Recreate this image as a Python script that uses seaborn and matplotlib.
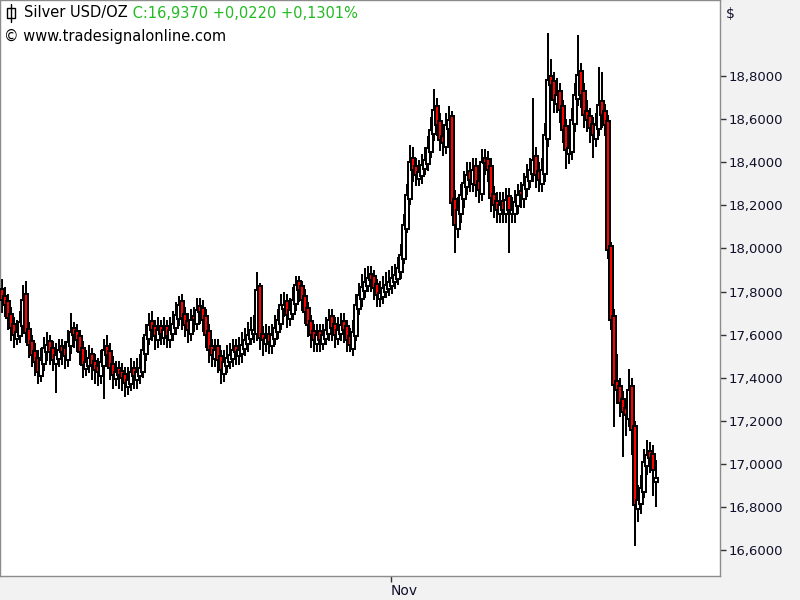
import numpy as np
import pandas as pd
import matplotlib
matplotlib.use("Agg")
import matplotlib.pyplot as plt
import seaborn as sns
from matplotlib.patches import Rectangle
from matplotlib.lines import Line2D

# ---------------- data (Silver USD/OZ, intraday candles) ----------------
closes = [
    17.761, 17.738, 17.678, 17.631, 17.599, 17.613, 17.659, 17.761, 17.608, 17.552,
    17.506, 17.473, 17.427, 17.483, 17.538, 17.552, 17.520, 17.483, 17.506, 17.529,
    17.520, 17.501, 17.566, 17.613, 17.599, 17.575, 17.520, 17.459, 17.473, 17.492,
    17.459, 17.436, 17.427, 17.473, 17.529, 17.506, 17.446, 17.413, 17.427, 17.413,
    17.399, 17.376, 17.390, 17.427, 17.408, 17.427, 17.446, 17.529, 17.599, 17.645,
    17.622, 17.594, 17.622, 17.603, 17.622, 17.594, 17.622, 17.650, 17.691, 17.738,
    17.678, 17.645, 17.622, 17.668, 17.668, 17.715, 17.705, 17.668, 17.599, 17.529,
    17.506, 17.529, 17.483, 17.436, 17.473, 17.492, 17.506, 17.529, 17.520, 17.529,
    17.552, 17.575, 17.599, 17.622, 17.622, 17.807, 17.585, 17.575, 17.585, 17.566,
    17.599, 17.631, 17.668, 17.738, 17.738, 17.691, 17.715, 17.761, 17.831, 17.807,
    17.761, 17.705, 17.645, 17.599, 17.575, 17.599, 17.575, 17.599, 17.622, 17.668,
    17.631, 17.599, 17.622, 17.645, 17.622, 17.575, 17.552, 17.613, 17.738, 17.784,
    17.821, 17.845, 17.863, 17.854, 17.817, 17.784, 17.794, 17.817, 17.831, 17.845,
    17.863, 17.877, 17.910, 17.970, 18.109, 18.248, 18.401, 18.364, 18.341, 18.355,
    18.387, 18.411, 18.466, 18.550, 18.643, 18.573, 18.503, 18.490, 18.573, 18.596,
    18.211, 18.109, 18.179, 18.248, 18.304, 18.341, 18.318, 18.364, 18.295, 18.271,
    18.401, 18.397, 18.364, 18.234, 18.202, 18.179, 18.202, 18.179, 18.225, 18.179,
    18.179, 18.216, 18.248, 18.248, 18.295, 18.332, 18.364, 18.411, 18.341, 18.318,
    18.364, 18.527, 18.782, 18.759, 18.689, 18.712, 18.643, 18.550, 18.457, 18.466,
    18.596, 18.712, 18.805, 18.712, 18.619, 18.596, 18.559, 18.527, 18.573, 18.666,
    18.619, 18.573, 17.993, 17.668, 17.367, 17.343, 17.283, 17.241, 17.227, 17.343,
    17.158, 16.810, 16.833, 16.889, 17.009, 17.042, 17.028, 16.972, 16.937,
]

opens = [
    17.810, 17.781, 17.758, 17.698, 17.651, 17.579, 17.593, 17.639, 17.790, 17.628,
    17.572, 17.526, 17.493, 17.407, 17.463, 17.518, 17.572, 17.540, 17.463, 17.486,
    17.549, 17.540, 17.481, 17.546, 17.633, 17.619, 17.595, 17.540, 17.439, 17.453,
    17.512, 17.479, 17.456, 17.407, 17.453, 17.549, 17.526, 17.466, 17.393, 17.447,
    17.433, 17.419, 17.356, 17.370, 17.447, 17.388, 17.407, 17.426, 17.509, 17.579,
    17.665, 17.642, 17.574, 17.642, 17.583, 17.642, 17.574, 17.602, 17.630, 17.671,
    17.758, 17.698, 17.665, 17.602, 17.688, 17.648, 17.735, 17.725, 17.688, 17.619,
    17.549, 17.486, 17.549, 17.503, 17.416, 17.453, 17.472, 17.486, 17.549, 17.500,
    17.509, 17.532, 17.555, 17.579, 17.602, 17.602, 17.827, 17.605, 17.555, 17.605,
    17.546, 17.579, 17.611, 17.648, 17.718, 17.758, 17.671, 17.695, 17.741, 17.851,
    17.827, 17.781, 17.725, 17.665, 17.619, 17.555, 17.619, 17.555, 17.579, 17.602,
    17.688, 17.651, 17.579, 17.602, 17.665, 17.642, 17.595, 17.532, 17.593, 17.718,
    17.764, 17.801, 17.825, 17.883, 17.874, 17.837, 17.764, 17.774, 17.797, 17.811,
    17.825, 17.843, 17.857, 17.890, 17.950, 18.089, 18.228, 18.421, 18.384, 18.321,
    18.335, 18.367, 18.391, 18.446, 18.530, 18.663, 18.593, 18.523, 18.470, 18.553,
    18.616, 18.231, 18.089, 18.159, 18.228, 18.284, 18.361, 18.298, 18.384, 18.315,
    18.251, 18.421, 18.417, 18.384, 18.254, 18.222, 18.159, 18.222, 18.159, 18.245,
    18.159, 18.159, 18.196, 18.268, 18.228, 18.275, 18.312, 18.344, 18.431, 18.361,
    18.298, 18.344, 18.507, 18.802, 18.779, 18.669, 18.732, 18.663, 18.570, 18.437,
    18.446, 18.576, 18.692, 18.825, 18.732, 18.639, 18.616, 18.579, 18.507, 18.553,
    18.686, 18.639, 18.593, 18.013, 17.688, 17.387, 17.363, 17.303, 17.261, 17.207,
    17.363, 17.178, 16.790, 16.813, 16.869, 16.989, 17.062, 17.048, 16.915,
]

highs = [
    17.86, 17.82, 17.79, 17.73, 17.68, 17.67, 17.71, 17.83, 17.85, 17.66,
    17.60, 17.56, 17.53, 17.54, 17.59, 17.61, 17.60, 17.57, 17.56, 17.58,
    17.58, 17.57, 17.62, 17.70, 17.66, 17.65, 17.62, 17.57, 17.53, 17.55,
    17.54, 17.51, 17.49, 17.53, 17.58, 17.60, 17.56, 17.50, 17.48, 17.48,
    17.47, 17.45, 17.45, 17.49, 17.48, 17.49, 17.51, 17.59, 17.65, 17.70,
    17.71, 17.67, 17.68, 17.67, 17.68, 17.67, 17.68, 17.71, 17.75, 17.78,
    17.79, 17.73, 17.70, 17.72, 17.73, 17.77, 17.77, 17.76, 17.72, 17.65,
    17.58, 17.58, 17.58, 17.53, 17.53, 17.55, 17.56, 17.58, 17.58, 17.59,
    17.61, 17.63, 17.66, 17.68, 17.69, 17.89, 17.84, 17.64, 17.65, 17.64,
    17.65, 17.69, 17.72, 17.79, 17.80, 17.79, 17.77, 17.82, 17.87, 17.87,
    17.85, 17.81, 17.75, 17.69, 17.65, 17.65, 17.65, 17.65, 17.68, 17.72,
    17.72, 17.68, 17.68, 17.70, 17.70, 17.67, 17.63, 17.67, 17.79, 17.84,
    17.88, 17.91, 17.92, 17.92, 17.90, 17.86, 17.85, 17.87, 17.89, 17.90,
    17.92, 17.93, 17.96, 18.02, 18.16, 18.30, 18.48, 18.47, 18.42, 18.41,
    18.44, 18.47, 18.52, 18.61, 18.74, 18.70, 18.63, 18.56, 18.63, 18.66,
    18.64, 18.27, 18.24, 18.30, 18.36, 18.40, 18.40, 18.42, 18.42, 18.35,
    18.46, 18.46, 18.45, 18.42, 18.29, 18.26, 18.26, 18.26, 18.28, 18.28,
    18.24, 18.27, 18.30, 18.31, 18.35, 18.39, 18.42, 18.70, 18.47, 18.40,
    18.42, 18.58, 19.00, 18.88, 18.82, 18.79, 18.77, 18.69, 18.60, 18.53,
    18.65, 18.77, 18.99, 18.86, 18.77, 18.69, 18.65, 18.61, 18.63, 18.84,
    18.82, 18.67, 18.62, 18.03, 17.72, 17.51, 17.40, 17.34, 17.30, 17.44,
    17.40, 17.20, 16.90, 16.95, 17.07, 17.11, 17.10, 17.09, 17.02,
]

lows = [
    17.70, 17.68, 17.62, 17.57, 17.54, 17.55, 17.56, 17.61, 17.56, 17.49,
    17.45, 17.41, 17.37, 17.38, 17.43, 17.48, 17.46, 17.43, 17.33, 17.45,
    17.46, 17.44, 17.45, 17.51, 17.54, 17.52, 17.46, 17.40, 17.41, 17.42,
    17.39, 17.37, 17.36, 17.37, 17.30, 17.45, 17.39, 17.35, 17.36, 17.35,
    17.34, 17.31, 17.32, 17.34, 17.35, 17.35, 17.37, 17.40, 17.48, 17.55,
    17.57, 17.53, 17.54, 17.55, 17.55, 17.54, 17.54, 17.57, 17.60, 17.64,
    17.62, 17.59, 17.56, 17.57, 17.61, 17.62, 17.65, 17.61, 17.54, 17.47,
    17.45, 17.45, 17.42, 17.37, 17.38, 17.42, 17.44, 17.45, 17.46, 17.46,
    17.47, 17.50, 17.52, 17.55, 17.56, 17.57, 17.53, 17.50, 17.52, 17.51,
    17.51, 17.55, 17.58, 17.62, 17.68, 17.63, 17.64, 17.67, 17.71, 17.75,
    17.71, 17.65, 17.59, 17.54, 17.52, 17.52, 17.52, 17.53, 17.55, 17.57,
    17.57, 17.54, 17.55, 17.57, 17.56, 17.52, 17.52, 17.50, 17.57, 17.69,
    17.73, 17.77, 17.80, 17.80, 17.76, 17.73, 17.73, 17.74, 17.77, 17.78,
    17.79, 17.81, 17.83, 17.86, 17.93, 18.07, 18.20, 18.31, 18.29, 18.29,
    18.30, 18.34, 18.36, 18.42, 18.50, 18.52, 18.45, 18.43, 18.44, 18.52,
    18.15, 17.98, 18.05, 18.12, 18.19, 18.25, 18.26, 18.26, 18.24, 18.21,
    18.22, 18.34, 18.31, 18.17, 18.14, 18.12, 18.12, 18.12, 18.12, 17.98,
    18.12, 18.12, 18.16, 18.19, 18.19, 18.24, 18.28, 18.31, 18.28, 18.26,
    18.26, 18.31, 18.47, 18.69, 18.63, 18.63, 18.58, 18.49, 18.37, 18.39,
    18.41, 18.54, 18.66, 18.65, 18.56, 18.54, 18.49, 18.42, 18.47, 18.52,
    18.56, 18.52, 17.95, 17.62, 17.17, 17.28, 17.22, 17.03, 17.13, 17.17,
    17.04, 16.62, 16.73, 16.77, 16.84, 16.95, 16.96, 16.85, 16.80,
]

y_ticks = [16.6, 16.8, 17.0, 17.2, 17.4, 17.6, 17.8, 18.0, 18.2, 18.4, 18.6, 18.8]
month_label = "Nov"
month_index = 129.67

title_name = "Silver USD/OZ"
title_quote = "C:16,9370 +0,0220 +0,1301%"
copyright_text = "\u00a9 www.tradesignalonline.com"

df = pd.DataFrame({"open": opens, "high": highs, "low": lows, "close": closes})
df["idx"] = np.arange(len(df))

# ---------------- figure ----------------
sns.set_theme(style="white")
plt.rcParams["font.family"] = ["DejaVu Sans"]

fig = plt.figure(figsize=(8, 6), dpi=100, facecolor="#f2f2f2")
ax = fig.add_axes([0.0, 0.04, 0.9, 0.96])
ax.set_facecolor("white")

up = df["close"] >= df["open"]
body_lo = np.minimum(df["open"], df["close"])
body_h = np.abs(df["close"] - df["open"])
body_h = np.maximum(body_h, 0.002)
fill = np.where(up, "white", "#ff0000")

px = 0.72  # one device pixel in points at 100 dpi
ax.vlines(df["idx"], df["low"], df["high"], color="black", linewidth=2 * px,
          zorder=2, antialiased=False)
ax.bar(df["idx"], body_h, bottom=body_lo, width=1.25, color=fill,
       edgecolor="black", linewidth=1.2, zorder=3, antialiased=False)

ax.set_xlim(-0.667, 239.333)
ax.set_ylim(16.48, 19.153)

ax.yaxis.tick_right()
ax.set_yticks(y_ticks)
ax.set_yticklabels([f"{v:.4f}".replace(".", ",") for v in y_ticks],
                   fontsize=9.5, color="#10102a")
ax.tick_params(axis="y", direction="out", length=4, width=1, color="#333333", pad=2,
               right=True, left=False)

ax.set_xticks([month_index])
ax.set_xticklabels([month_label], fontsize=10, color="#10102a", ha="left")
ax.tick_params(axis="x", direction="out", length=4, width=1, color="#333333", pad=2,
               bottom=True)

for s in ax.spines.values():
    s.set_color("#8c8c8c")
    s.set_linewidth(1.0)
ax.grid(False)

# "$" unit label above the price axis
fig.text(726 / 800, 1 - 14 / 600, "$", fontsize=10, color="#10102a",
         ha="left", va="center")

# header texts
t1 = fig.text(24 / 800, 1 - 13 / 600, title_name, fontsize=10.5, color="black",
              ha="left", va="center")
fig.canvas.draw()
ax.annotate(" " + title_quote, xy=(1, 0.5), xycoords=t1, fontsize=10.5,
            color="#22bb22", ha="left", va="center")
fig.text(4 / 800, 1 - 36 / 600, copyright_text, fontsize=10.5, color="black",
         ha="left", va="center")

# small candle glyph before the instrument name
fig.add_artist(Line2D([11 / 800, 11 / 800], [1 - 22 / 600, 1 - 4 / 600],
                      transform=fig.transFigure, color="black", linewidth=1))
fig.add_artist(Rectangle((7 / 800, 1 - 18 / 600), 8 / 800, 10 / 600,
                         transform=fig.transFigure, facecolor="white",
                         edgecolor="black", linewidth=1))

fig.savefig("out.png", dpi=100, facecolor=fig.get_facecolor())
